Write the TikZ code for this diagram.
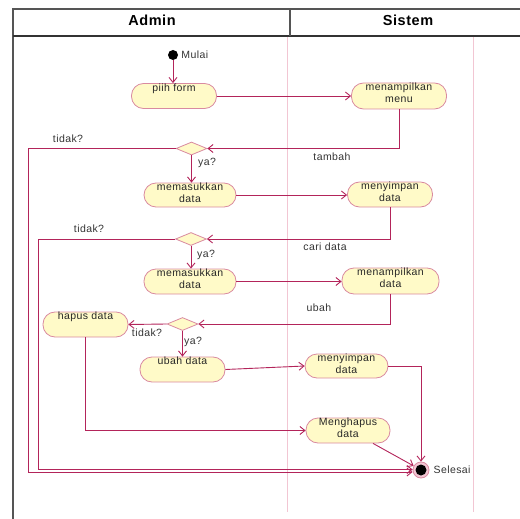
\documentclass[tikz,border=0pt]{standalone}
\usepackage{fontspec}
\setmainfont{Liberation Sans}
\newfontfamily\labfont[LetterSpace=4]{Liberation Sans}
\newfontfamily\headfont[LetterSpace=4]{Liberation Sans}
\usetikzlibrary{arrows.meta,shapes.geometric,calc}
\definecolor{actfill}{HTML}{FFFAC8}
\definecolor{actedge}{HTML}{D98AA0}
\definecolor{flowc}{HTML}{B3245A}
\definecolor{lanec}{HTML}{F2C6D3}
\definecolor{framec}{HTML}{555555}
\definecolor{txtc}{HTML}{333333}
\begin{document}
\begin{tikzpicture}[x=1pt,y=-1pt,
  act/.style={draw=actedge, fill=actfill, line width=0.8pt, rounded corners=12pt,
    minimum height=25pt, inner sep=0pt},
  acttxt/.style={anchor=north, inner sep=0pt, align=center, text=black!85,
    font=\labfont\fontsize{10.5}{12.5}\selectfont},
  decision/.style={diamond, draw=actedge, fill=actfill, line width=0.8pt,
    minimum width=31pt, minimum height=13pt, inner sep=0pt, aspect=2.4},
  flow/.style={draw=flowc, line width=0.9pt, -{Straight Barb[length=5pt,width=8pt]}},
  lbl/.style={inner sep=0pt, text=txtc, font=\labfont\fontsize{10.5}{12.5}\selectfont},
  lane/.style={draw=lanec, line width=0.8pt},
  frame/.style={draw=framec, line width=1.3pt},
  head/.style={inner sep=0pt, font=\headfont\bfseries\fontsize{14.5}{16}\selectfont}
]
\useasboundingbox (0,0) rectangle (520,519);

% swimlane table
\draw[frame] (520,9) -- (13,9) -- (13,519);
\draw[frame, draw=black!80] (13,36) -- (520,36);
\draw[frame] (290,9) -- (290,36);
\draw[lane] (287,37) -- (287,512);
\draw[lane] (473,37) -- (473,512);
\node[head] (hadmin) at (152,20) {Admin};
\node[head] (hsistem) at (408,20) {Sistem};

% initial and final nodes
\node[circle, fill=black, minimum size=10pt, inner sep=0pt] (start) at (173,55) {};
\node[circle, draw=actedge, fill=lanec, line width=0.8pt, minimum size=16pt, inner sep=0pt] (fin) at (421,470) {};
\node[circle, fill=black, minimum size=11pt, inner sep=0pt] (finc) at (fin) {};

% actions
\node[act, minimum width=85pt] (piih) at (174,96) {};
\node[acttxt] (tpiih) at ([yshift=-0.5pt]piih.north) {piih form};
\node[act, minimum width=95pt, minimum height=26pt] (menu) at (399,96) {};
\node[acttxt] (tmenu) at (menu.north) {menampilkan\\menu};
\node[act, minimum width=92pt, minimum height=24pt] (mas1) at (190,195) {};
\node[acttxt] (tmas1) at (mas1.north) {memasukkan\\data};
\node[act, minimum width=85pt] (simp1) at (390,194.5) {};
\node[acttxt] (tsimp1) at (simp1.north) {menyimpan\\data};
\node[act, minimum width=92pt] (mas2) at (190,281.5) {};
\node[acttxt] (tmas2) at (mas2.north) {memasukkan\\data};
\node[act, minimum width=97pt, minimum height=26pt] (tampil) at (390.5,281) {};
\node[acttxt] (ttampil) at (tampil.north) {menampilkan\\data};
\node[act, minimum width=85pt] (hapus) at (85.5,324.5) {};
\node[acttxt] (thapus) at ([yshift=-0.5pt]hapus.north) {hapus data};
\node[act, minimum width=85pt] (ubah) at (182.5,369.5) {};
\node[acttxt] (tubah) at ([yshift=-0.5pt]ubah.north) {ubah data};
\node[act, minimum width=83pt, minimum height=24pt] (simp2) at (346.5,366) {};
\node[acttxt] (tsimp2) at (simp2.north) {menyimpan\\data};
\node[act, minimum width=84pt] (hapus2) at (348,430.5) {};
\node[acttxt] (thapus2) at (hapus2.north) {Menghapus\\data};

% decisions
\node[decision] (d1) at (191.5,148.5) {};
\node[decision] (d2) at (191,239) {};
\node[decision] (d3) at (182.5,324) {};

% bends of the long "tidak?" returns
\coordinate (c1) at (28,472);
\coordinate (c2) at (38,469.5);

% flows
\draw[flow] (start) -- (start |- piih.north);
\draw[flow] (piih.east) -- (piih.east -| menu.west);
\draw[flow] (menu.south) |- (d1.east);
\draw[flow] (d1.south) -- (d1.south |- mas1.north);
\draw[flow] (mas1.east) -- (mas1.east -| simp1.west);
\draw[flow] (simp1.south) |- (d2.east);
\draw[flow] (d2.south) -- (d2.south |- mas2.north);
\draw[flow] (mas2.east) -- (mas2.east -| tampil.west);
\draw[flow] (tampil.south) |- (d3.east);
\draw[flow] (d3.west) -- (hapus.east);
\draw[flow] (d3.south) -- (d3.south |- ubah.north);
\draw[flow] (ubah.east) -- (simp2.west);
\draw[flow] (simp2.east) -| (fin.north);
\draw[flow] (hapus.south) |- (hapus2.west);
\draw[flow] ($(hapus2.south)+(25,0)$) -- (fin);
\draw[flow] (d1.west) -| (c1) -- (c1 -| fin.west);
\draw[flow] (d2.west) -| (c2) -- (c2 -| fin.west);

% labels
\node[lbl, anchor=west] (lmulai) at ([xshift=3pt]start.east) {Mulai};
\node[lbl, anchor=west] (lselesai) at ([xshift=4pt]fin.east) {Selesai};
\node[lbl] (ltidak1) at (68,139) {tidak?};
\node[lbl] (lya1) at (207,163) {ya?};
\node[lbl] (ltambah) at (332,157) {tambah};
\node[lbl] (ltidak2) at (89,229) {tidak?};
\node[lbl] (lcari) at (325,247) {cari data};
\node[lbl] (lya2) at (206,255) {ya?};
\node[lbl] (lubah) at (319,308) {ubah};
\node[lbl] (ltidak3) at (147,333) {tidak?};
\node[lbl] (lya3) at (193,342) {ya?};
\end{tikzpicture}
\end{document}
